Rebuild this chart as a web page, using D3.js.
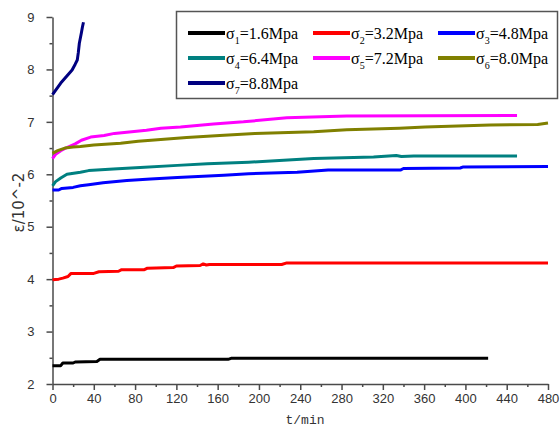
<!DOCTYPE html>
<html>
<head>
<meta charset="utf-8">
<script src="https://cdn.jsdelivr.net/npm/d3@7"></script>
<style>
  body { margin: 0; background: #fff; }
  svg { display: block; }
</style>
</head>
<body>
<script>
// Axis ticks
const xTicks = [0, 40, 80, 120, 160, 200, 240, 280, 320, 360, 400, 440, 480];
const yTicks = [2, 3, 4, 5, 6, 7, 8, 9];

// Series [t (min), strain (10^-2)]
const s1 = [[0,2.35],[8,2.35],[10,2.40],[20,2.40],[22,2.42],[43,2.43],[46,2.47],[170,2.47],[173,2.49],[422,2.49]];
const s2 = [[0,3.99],[6,4.00],[10,4.02],[15,4.05],[18,4.11],[40,4.11],[45,4.14],[64,4.15],[67,4.18],[89,4.18],[92,4.21],[117,4.22],[120,4.25],[143,4.26],[146,4.29],[149,4.27],[152,4.28],[222,4.28],[227,4.31],[480,4.31]];
const s3 = [[0,5.70],[6,5.70],[9,5.73],[20,5.75],[27,5.78],[35,5.80],[49,5.84],[72,5.88],[95,5.91],[121,5.94],[166,5.98],[190,6.01],[237,6.04],[267,6.08],[337,6.08],[340,6.11],[395,6.12],[398,6.14],[480,6.15]];
const s4 = [[0,5.78],[3,5.86],[8,5.93],[14,6.00],[27,6.04],[35,6.07],[59,6.10],[85,6.13],[121,6.17],[150,6.20],[190,6.23],[224,6.27],[253,6.30],[311,6.33],[333,6.36],[338,6.34],[350,6.35],[450,6.35]];
const s5 = [[0,6.30],[3,6.38],[8,6.45],[15,6.52],[22,6.58],[28,6.65],[37,6.71],[50,6.74],[60,6.78],[91,6.84],[105,6.88],[124,6.90],[156,6.96],[185,7.00],[227,7.08],[285,7.11],[450,7.12]];
const s6 = [[0,6.40],[5,6.45],[12,6.50],[20,6.52],[27,6.53],[40,6.56],[66,6.59],[83,6.63],[130,6.70],[162,6.74],[196,6.78],[253,6.81],[285,6.85],[336,6.88],[361,6.90],[424,6.94],[470,6.95],[480,6.98]];
const s7 = [[0,7.52],[8,7.74],[15,7.90],[19,7.99],[22,8.10],[24,8.18],[25,8.32],[26,8.50],[28,8.70],[29,8.81],[30,8.90]];

const stresses = ["1.6", "3.2", "4.8", "6.4", "7.2", "8.0", "8.8"];
const colors = ["#000000", "#ff0000", "#0000ff", "#008080", "#ff00ff", "#808000", "#000080"];
const series = [s1, s2, s3, s4, s5, s6, s7];

const width = 560, height = 429;
const margin = { left: 52.5, right: 12, top: 17, bottom: 45 };

const x = d3.scaleLinear().domain([0, 480]).range([margin.left, width - margin.right]);
const y = d3.scaleLinear().domain([2, 9]).range([height - margin.bottom, margin.top]);

const svg = d3.select("body").append("svg")
    .attr("width", width)
    .attr("height", height)
    .attr("font-family", "'Liberation Sans', Arial, sans-serif");

const axisColor = "#4a4a4a";

// x axis (major + minor ticks, outward)
svg.append("g")
    .attr("transform", `translate(0,${y(2)})`)
    .call(d3.axisBottom(x).tickValues(xTicks).tickFormat(d3.format("d")).tickSize(6).tickSizeOuter(0).tickPadding(4));
svg.append("g")
    .attr("transform", `translate(0,${y(2)})`)
    .call(d3.axisBottom(x).tickValues(d3.range(20, 480, 40)).tickSize(3).tickFormat(""))
    .select(".domain").remove();

// y axis
svg.append("g")
    .attr("transform", `translate(${x(0)},0)`)
    .call(d3.axisLeft(y).tickValues(yTicks).tickFormat(d3.format("d")).tickSize(6).tickSizeOuter(0).tickPadding(12));
svg.append("g")
    .attr("transform", `translate(${x(0)},0)`)
    .call(d3.axisLeft(y).tickValues(d3.range(2.5, 9, 1)).tickSize(3).tickFormat(""))
    .select(".domain").remove();

svg.selectAll(".domain, .tick line")
    .attr("stroke", axisColor)
    .attr("stroke-width", 1.5);
svg.selectAll(".tick text")
    .attr("fill", "#333")
    .attr("font-size", 13)
    .attr("font-family", "'Liberation Sans', Arial, sans-serif");

// axis titles
svg.append("text")
    .attr("transform", `translate(24,${(y(2) + y(9)) / 2 + 2}) rotate(-90)`)
    .attr("text-anchor", "middle")
    .attr("font-family", "'DejaVu Sans', sans-serif")
    .attr("font-size", 15)
    .attr("fill", "#333")
    .text("ε/10^-2");

svg.append("text")
    .attr("x", 305)
    .attr("y", 424)
    .attr("text-anchor", "middle")
    .attr("font-family", "'Liberation Mono', monospace")
    .attr("font-size", 13)
    .attr("fill", "#333")
    .text("t/min");

// curves
const line = d3.line().x(d => x(d[0])).y(d => y(d[1]));
svg.append("g")
    .selectAll("path")
    .data(series)
    .join("path")
    .attr("d", line)
    .attr("fill", "none")
    .attr("stroke", (d, i) => colors[i])
    .attr("stroke-width", 3)
    .attr("stroke-linejoin", "round");

// legend
const legend = svg.append("g");
legend.append("rect")
    .attr("x", 176.5).attr("y", 11.5)
    .attr("width", 381).attr("height", 87)
    .attr("fill", "#fff")
    .attr("stroke", "#555")
    .attr("stroke-width", 1.5);

const item = legend.selectAll("g.item")
    .data(stresses)
    .join("g")
    .attr("class", "item")
    .attr("transform", (d, i) => `translate(${188 + (i % 3) * 125},${33 + Math.floor(i / 3) * 25})`);

item.append("line")
    .attr("x1", 0).attr("x2", 37)
    .attr("stroke", (d, i) => colors[i])
    .attr("stroke-width", 4);

const label = item.append("text")
    .attr("x", 38)
    .attr("y", 5.5)
    .attr("font-family", "'Liberation Serif', 'Times New Roman', serif")
    .attr("font-size", 16)
    .attr("fill", "#000");
label.append("tspan").text("σ");
label.append("tspan").attr("font-size", 10).attr("dy", 5).text((d, i) => i + 1);
label.append("tspan").attr("dy", -5).text(d => `=${d}Mpa`);
</script>
</body>
</html>
